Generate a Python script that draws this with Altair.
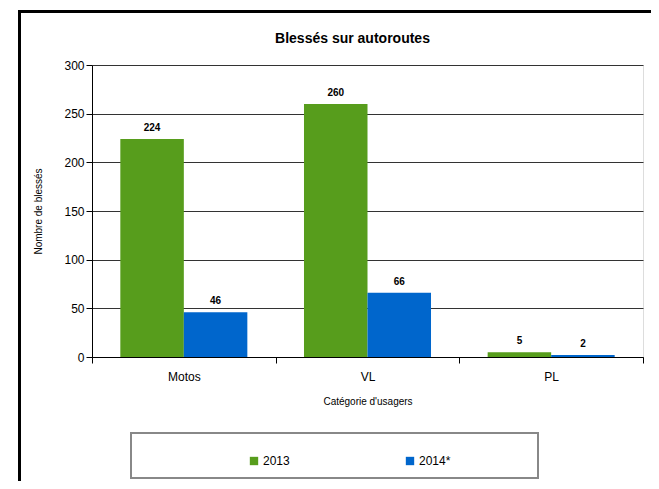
import altair as alt
import pandas as pd

categories = ["Motos", "VL", "PL"]
years = ["2013", "2014*"]
values_2013 = [224, 260, 5]
values_2014 = [46, 66, 2]
colors = ["#579D1C", "#0066CC"]

rows = []
for c, a, b in zip(categories, values_2013, values_2014):
    rows.append({"cat": c, "year": years[0], "val": a})
    rows.append({"cat": c, "year": years[1], "val": b})
df = pd.DataFrame(rows)

FONT = "Liberation Sans, Arial"

x = alt.X("cat:N", sort=categories, title="Catégorie d'usagers",
          scale=alt.Scale(paddingInner=0, paddingOuter=0),
          axis=alt.Axis(labelAngle=0, tickBand="extent", labelPadding=8,
                        titlePadding=14, tickSize=6, domainColor="#000",
                        tickColor="#000", labelFontSize=12, titleFontSize=10,
                        labelColor="#000", titleColor="#000",
                        titleFontWeight="normal", labelFont=FONT, titleFont=FONT))
xo = alt.XOffset("year:N", sort=years,
                 scale=alt.Scale(paddingInner=0, paddingOuter=0.446))
y = alt.Y("val:Q", title="Nombre de blessés",
          scale=alt.Scale(domain=[0, 300]),
          axis=alt.Axis(values=[0, 50, 100, 150, 200, 250, 300], tickSize=6,
                        gridColor="#333", gridWidth=1, domainColor="#000",
                        tickColor="#000", labelFontSize=12, titleFontSize=10,
                        labelColor="#000", titleColor="#000", titlePadding=20,
                        titleFontWeight="normal", labelFont=FONT, titleFont=FONT))
color = alt.Color("year:N", sort=years, title=None,
                  scale=alt.Scale(domain=years, range=colors),
                  legend=alt.Legend(orient="none", legendX=156, legendY=390,
                                    direction="horizontal", columns=2,
                                    columnPadding=114, symbolType="square",
                                    symbolSize=70, symbolStrokeWidth=0,
                                    labelFontSize=12, labelFont=FONT,
                                    labelColor="#000", padding=0, labelOffset=3))

base = alt.Chart(df)
bars = base.mark_bar().encode(x=x, xOffset=xo, y=y, color=color)
labels = base.mark_text(baseline="bottom", dy=-6, fontWeight="bold",
                        fontSize=10, font=FONT, color="#000").encode(
    x=alt.X("cat:N", sort=categories), xOffset=xo, y="val:Q", text="val:Q")

frame_df = pd.DataFrame({"k": [0]})
legend_box = alt.Chart(frame_df).mark_rect(fill="white", stroke="#888",
                                           strokeWidth=2).encode(
    x=alt.value(39), x2=alt.value(446), y=alt.value(368), y2=alt.value(413))
outer = alt.Chart(frame_df).mark_rect(fill=None, stroke="#000",
                                      strokeWidth=3).encode(
    x=alt.value(-72.5), x2=alt.value(600), y=alt.value(-53.5), y2=alt.value(460))

chart = alt.layer(outer, legend_box, bars, labels).properties(
    width=551, height=292,
    title=alt.TitleParams("Blessés sur autoroutes", fontSize=14,
                          fontWeight="bold", font=FONT, color="#000",
                          frame="group", dx=-15, offset=-36),
    autosize=alt.AutoSizeParams(type="none"),
    padding={"left": 84, "top": 57, "right": 8, "bottom": 124},
).configure_view(fill="#E0E0E0", stroke="#000", strokeWidth=1).configure(
    background="white")

chart.save("out.html", embed_options={"renderer": "svg", "actions": False})
